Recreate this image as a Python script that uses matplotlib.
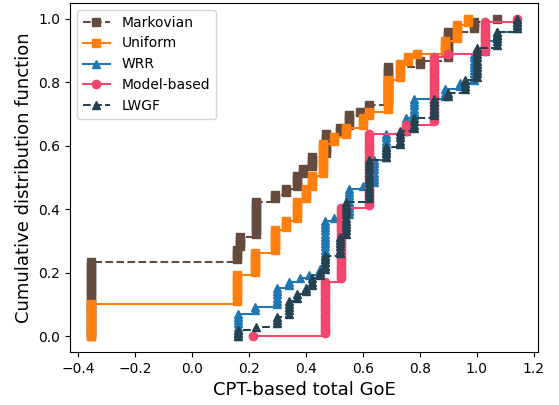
import numpy as np
import matplotlib
matplotlib.use("Agg")
import matplotlib.pyplot as plt

# distinct CPT-based GoE values and how many of the 100 runs hit each one
markov_x = [-0.353, 0.160, 0.170, 0.226, 0.29, 0.33, 0.37, 0.39, 0.42, 0.47,
            0.52, 0.55, 0.59, 0.62, 0.69, 0.80, 0.90, 0.99, 1.07]
markov_n = [24, 4, 4, 11, 2, 2, 4, 2, 4, 7, 2, 4, 1, 2, 12, 2, 9, 3, 1]

uniform_x = [-0.353, 0.16, 0.22, 0.29, 0.33, 0.37, 0.40, 0.42, 0.46, 0.50,
             0.54, 0.60, 0.62, 0.69, 0.73, 0.76, 0.79, 0.89, 0.93, 0.97]
uniform_n = [11, 9, 7, 7, 3, 6, 4, 4, 10, 2, 3, 3, 2, 10, 5, 2, 1, 4, 5, 2]

wrr_x = [0.163, 0.22, 0.30, 0.34, 0.38, 0.41, 0.45, 0.467, 0.50, 0.55, 0.60,
         0.64, 0.68, 0.75, 0.78, 0.89, 0.94, 0.99, 1.03, 1.07, 1.14]
wrr_n = [8, 2, 6, 2, 1, 1, 2, 15, 1, 9, 1, 8, 8, 5, 6, 3, 2, 9, 4, 3, 4]

model_x = [0.215, 0.467, 0.525, 0.62, 0.75, 0.85, 0.90, 1.03, 1.14]
model_n = [1, 17, 23, 23, 3, 21, 1, 10, 1]

lwgf_x = [0.163, 0.225, 0.30, 0.34, 0.37, 0.40, 0.42, 0.45, 0.467, 0.52, 0.54,
          0.62, 0.68, 0.73, 0.78, 0.85, 0.90, 0.96, 1.00, 1.07, 1.14]
lwgf_n = [3, 1, 3, 5, 2, 2, 3, 2, 5, 6, 11, 13, 4, 5, 4, 6, 2, 4, 10, 5, 4]

series = [
    ("Markovian", markov_x, markov_n, "#654b3e", "s", "--"),
    ("Uniform", uniform_x, uniform_n, "#ff7f0e", "s", "-"),
    ("WRR", wrr_x, wrr_n, "#1f77b4", "^", "-"),
    ("Model-based", model_x, model_n, "#f3466d", "o", "-"),
    ("LWGF", lwgf_x, lwgf_n, "#24424f", "^", "--"),
]

fig, ax = plt.subplots(figsize=(5.59, 4.05), dpi=100)
fig.subplots_adjust(left=70 / 559, right=538 / 559, bottom=1 - 352 / 405, top=1 - 3 / 405)

for name, xs, ns, color, mk, ls in series:
    vals = np.sort(np.repeat(xs, ns))
    cdf = np.linspace(0, 1, len(vals))
    ax.step(vals, cdf, where="post", marker=mk, linestyle=ls,
            color=color, label=name)

ax.set_xlabel("CPT-based total GoE", fontsize=13)
ax.set_ylabel("Cumulative distribution function", fontsize=13)
ax.legend(loc="upper left")

fig.savefig("out.png", dpi=100)
